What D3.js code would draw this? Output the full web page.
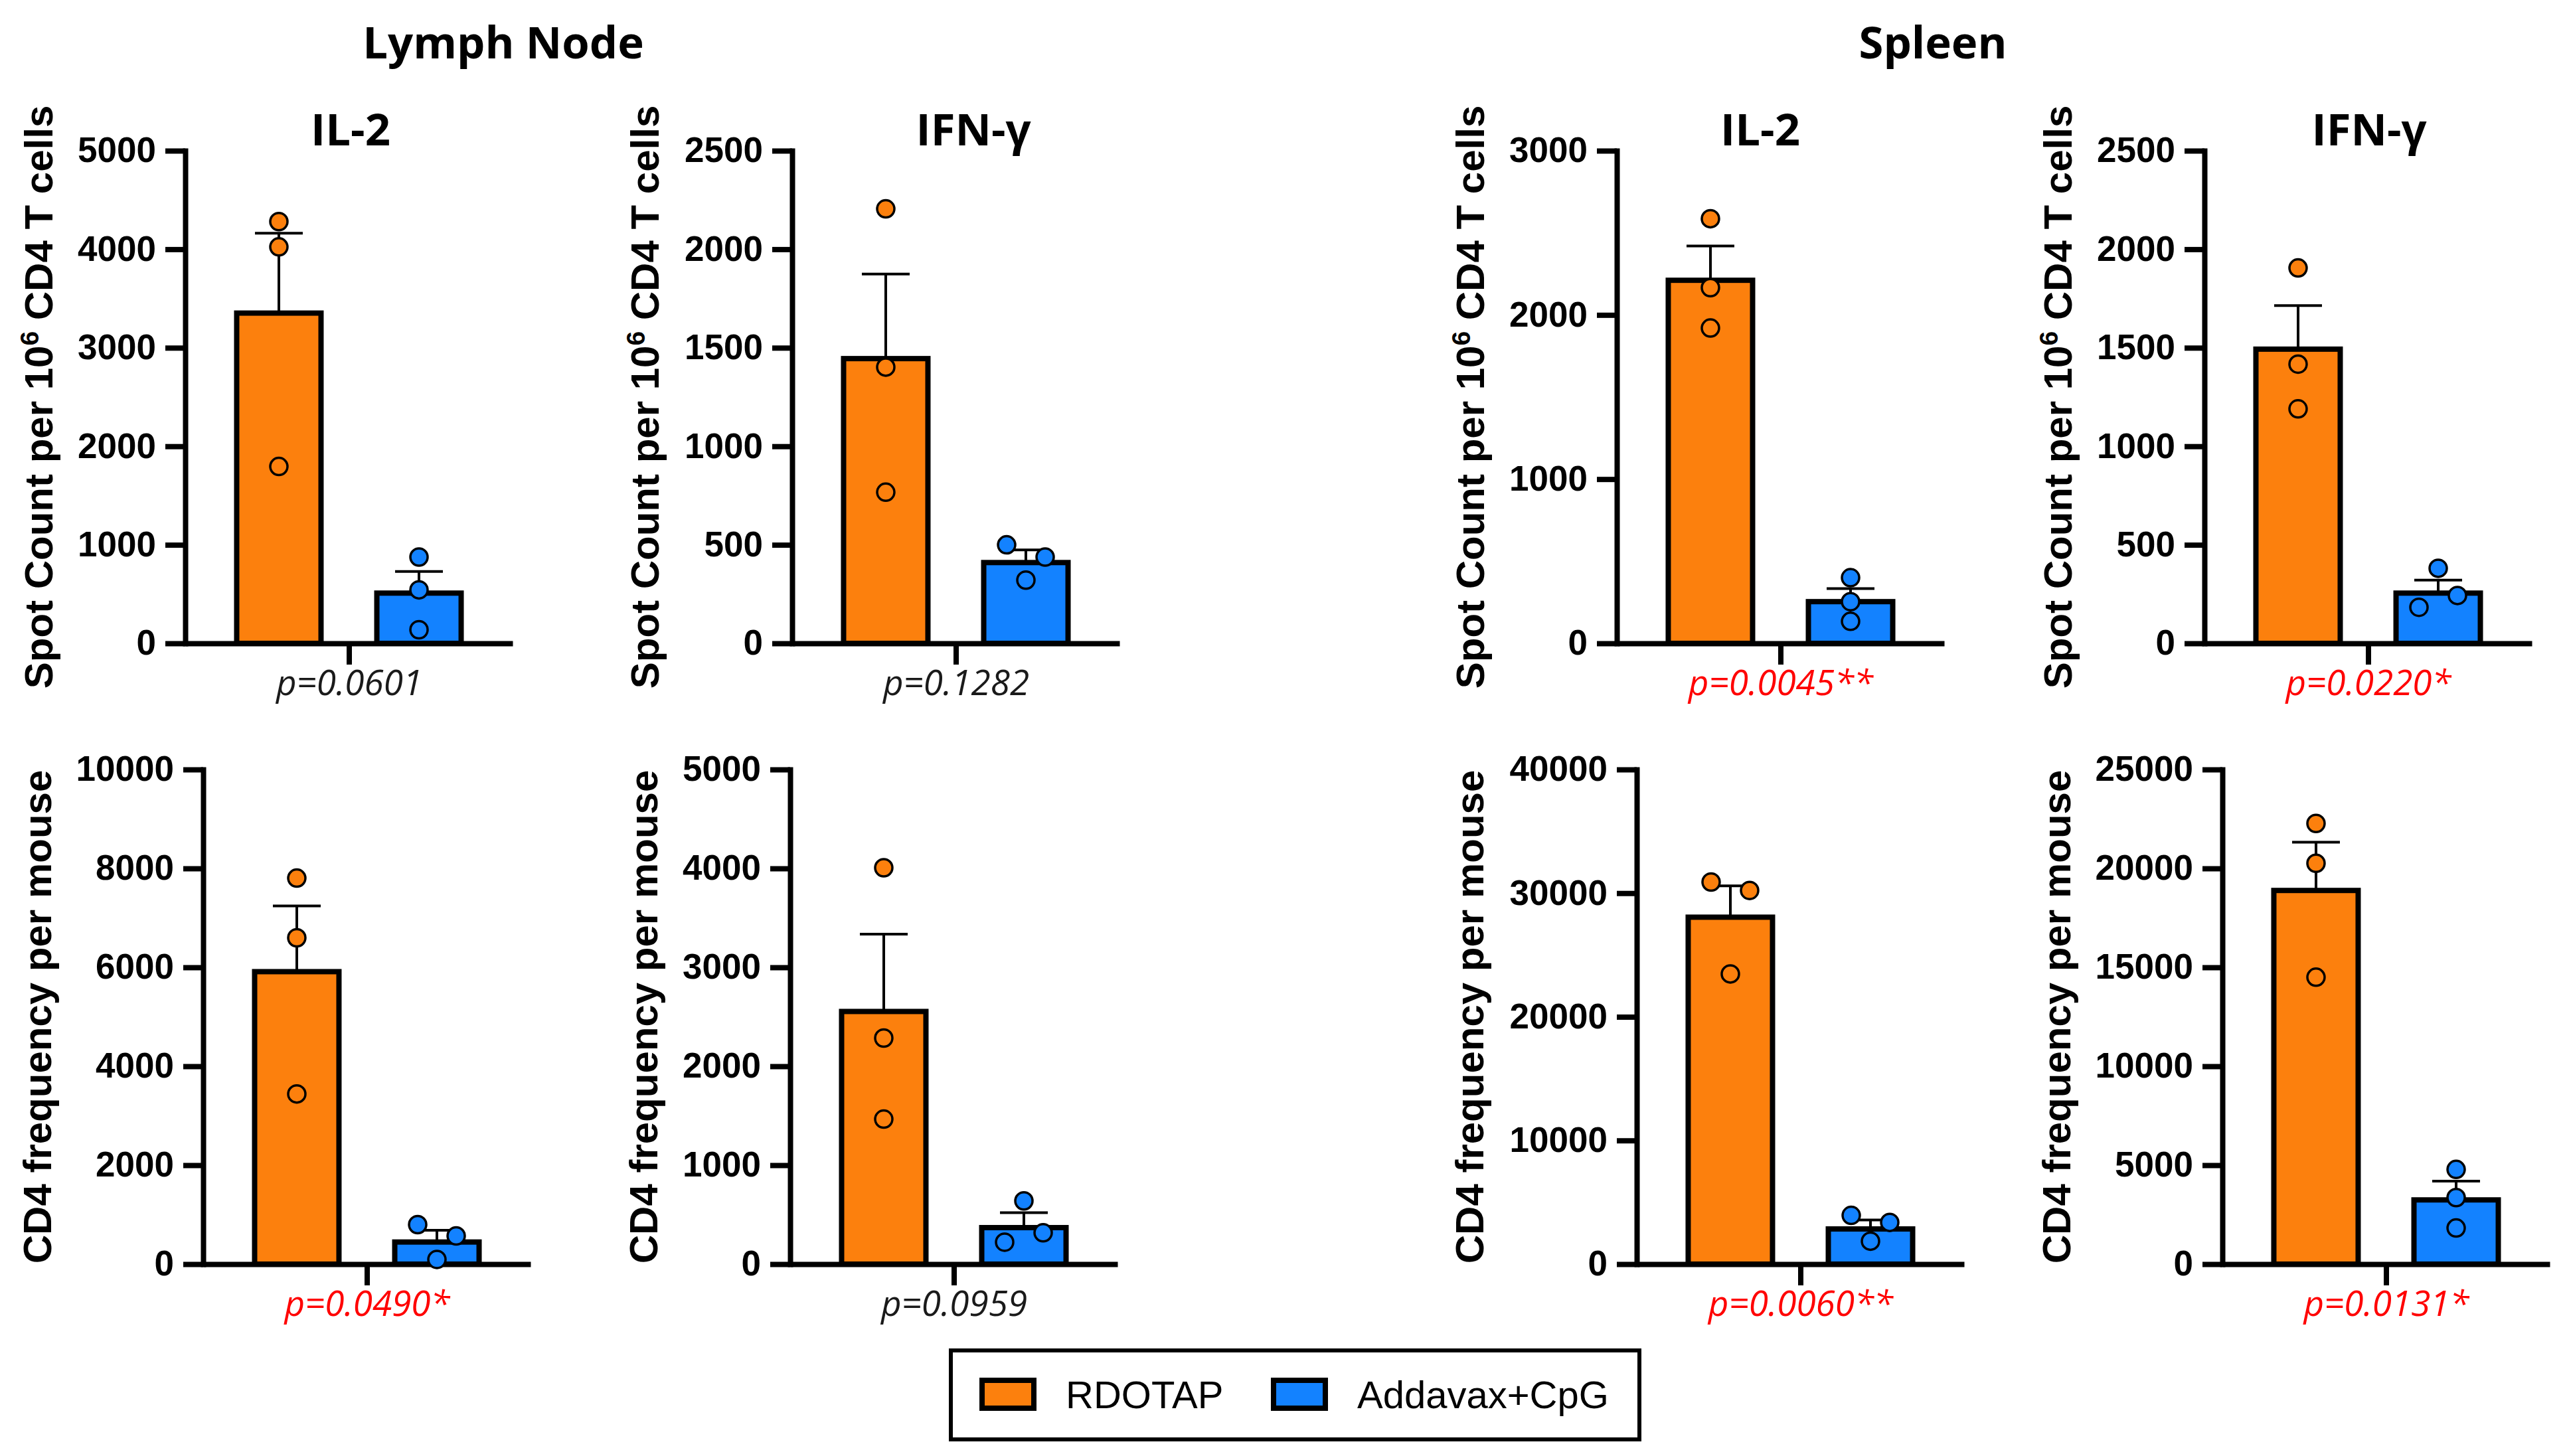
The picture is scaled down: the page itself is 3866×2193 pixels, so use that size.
<!DOCTYPE html>
<html>
<head>
<meta charset="utf-8">
<script src="https://cdn.jsdelivr.net/npm/d3@7"></script>
<style>
  body { margin: 0; background: #fff; }
  .tick text { font-family: "Liberation Sans", Arial, sans-serif; font-weight: bold; }
</style>
</head>
<body>
<script>
// groups and colours
const groups = ["RDOTAP", "Addavax+CpG"];
const groupColors = ["#FC800D", "#1382FF"];

// panels: 0-3 top row (Spot Count), 4-7 bottom row (CD4 frequency)
const panelTitles = ["IL-2", "IFN-γ", "IL-2", "IFN-γ", "", "", "", ""];
const yMax = [5000, 2500, 3000, 2500, 10000, 5000, 40000, 25000];
const yStep = [1000, 500, 1000, 500, 2000, 1000, 10000, 5000];

// bar heights (mean) and top of the error bar (mean + SEM)
const rdotapMean = [3352, 1445, 2211, 1493, 5913, 2554, 28057, 18886];
const rdotapErrTop = [4162, 1874, 2420, 1714, 7243, 3335, 30597, 21327];
const addavaxMean = [510, 410, 254, 255, 447, 369, 2844, 3246];
const addavaxErrTop = [729, 474, 334, 321, 684, 520, 3564, 4194];

// individual mice
const rdotapPoints = [
  [4281, 4024, 1795],
  [2205, 1402, 767],
  [2586, 2166, 1920],
  [1905, 1417, 1190],
  [7804, 6597, 3441],
  [4007, 2285, 1466],
  [30900, 30218, 23469],
  [22275, 20261, 14502]
];
const addavaxPoints = [
  [876, 543, 138],
  [500, 438, 321],
  [400, 254, 134],
  [381, 183, 243],
  [798, 570, 95],
  [639, 222, 317],
  [3943, 3374, 1858],
  [4787, 3365, 1825]
];

const pValues = ["p=0.0601", "p=0.1282", "p=0.0045**", "p=0.0220*",
                 "p=0.0490*", "p=0.0959", "p=0.0060**", "p=0.0131*"];

const sectionTitles = ["Lymph Node", "Spleen"];
const yTitles = ["Spot Count per 10|6| CD4 T cells", "CD4 frequency per mouse"];


// layout
const width = 3866;
const height = 2193;
const axisX = [279, 1193, 2435, 3320, 306, 1190, 2465, 3347];
const yTitleX = [57, 970, 2213, 3098, 55, 968, 2212, 3096];
const titleX = [528, 1466, 2651, 3568];
const rowTop = [227, 1159];
const rowBottom = [969, 1904];
const plotW = 493;
const barW = 127;
const dotR = 13;

const svg = d3.select("body").append("svg")
    .attr("width", width)
    .attr("height", height)
    .style("display", "block")
    .style("background", "#fff");

// section headings
svg.selectAll("text.section")
    .data(sectionTitles)
    .join("text")
    .attr("class", "section")
    .attr("x", (d, i) => [758, 2911][i])
    .attr("y", 88)
    .attr("text-anchor", "middle")
    .style("font-family", "'Open Sans', sans-serif")
    .style("font-weight", 700)
    .style("font-size", "67px")
    .text(d => d);

d3.range(8).forEach(i => {
    const row = i < 4 ? 0 : 1;
    const top = rowTop[row];
    const bottom = rowBottom[row];

    const g = svg.append("g")
        .attr("transform", `translate(${axisX[i]},0)`);

    const y = d3.scaleLinear()
        .domain([0, yMax[i]])
        .range([bottom, top]);

    const x = d3.scalePoint()
        .domain(groups)
        .range([0, plotW])
        .padding(0.668);

    // one category tick in the middle, labelled with the p value
    const xCat = d3.scalePoint()
        .domain([pValues[i]])
        .range([0, plotW])
        .padding(0.5);

    //y axis
    const yAxis = g.append("g")
        .call(d3.axisLeft(y)
            .tickValues(d3.range(0, yMax[i] + 1, yStep[i]))
            .tickFormat(d3.format("d"))
            .tickSize(30)
            .tickSizeOuter(0)
            .tickPadding(14));
    yAxis.select(".domain")
        .attr("stroke", "#000")
        .attr("stroke-width", 8)
        .attr("stroke-linecap", "square");
    yAxis.selectAll(".tick line")
        .attr("stroke", "#000")
        .attr("stroke-width", 8);
    yAxis.selectAll(".tick text")
        .style("font-size", "53px")
        .attr("fill", "#000");

    //x axis
    const xAxis = g.append("g")
        .attr("transform", `translate(0,${bottom})`)
        .call(d3.axisBottom(xCat)
            .tickSize(32)
            .tickSizeOuter(0)
            .tickPadding(8));
    xAxis.select(".domain")
        .attr("stroke", "#000")
        .attr("stroke-width", 8);
    xAxis.selectAll(".tick line")
        .attr("stroke", "#000")
        .attr("stroke-width", 8);
    xAxis.selectAll(".tick text")
        .style("font-family", "'Open Sans', sans-serif")
        .style("font-weight", 400)
        .style("font-style", "italic")
        .style("font-size", "53px")
        .attr("fill", d => d.includes("*") ? "#FF0000" : "#1a1a1a");

    const bars = groups.map((grp, k) => ({
        group: grp,
        color: groupColors[k],
        mean: k === 0 ? rdotapMean[i] : addavaxMean[i],
        errTop: k === 0 ? rdotapErrTop[i] : addavaxErrTop[i],
        points: k === 0 ? rdotapPoints[i] : addavaxPoints[i]
    }));

    //bars
    g.selectAll("rect.bar")
        .data(bars)
        .join("rect")
        .attr("class", "bar")
        .attr("x", d => x(d.group) - barW / 2)
        .attr("y", d => y(d.mean))
        .attr("width", barW)
        .attr("height", d => y(0) - y(d.mean))
        .attr("fill", d => d.color)
        .attr("stroke", "#000")
        .attr("stroke-width", 8);

    //error bars (upper only)
    g.selectAll("line.err")
        .data(bars)
        .join("line")
        .attr("class", "err")
        .attr("x1", d => x(d.group))
        .attr("x2", d => x(d.group))
        .attr("y1", d => y(d.mean))
        .attr("y2", d => y(d.errTop))
        .attr("stroke", "#000")
        .attr("stroke-width", 4);
    g.selectAll("line.cap")
        .data(bars)
        .join("line")
        .attr("class", "cap")
        .attr("x1", d => x(d.group) - 36)
        .attr("x2", d => x(d.group) + 36)
        .attr("y1", d => y(d.errTop))
        .attr("y2", d => y(d.errTop))
        .attr("stroke", "#000")
        .attr("stroke-width", 4);

    //dots, spread sideways when two of them would overlap
    const dots = [];
    bars.forEach(b => {
        const ys = b.points.map(v => y(v));
        const placed = [];
        ys.forEach((py, j) => {
            const hit = ys.findIndex((qy, m) => m !== j && Math.abs(qy - py) < dotR * 2 + 2);
            let dx = 0;
            if (hit >= 0) dx = hit > j ? -29 : 29;
            placed.push(dx);
            dots.push({ cx: x(b.group) + dx, cy: py, color: b.color });
        });
    });
    g.selectAll("circle")
        .data(dots)
        .join("circle")
        .attr("cx", d => d.cx)
        .attr("cy", d => d.cy)
        .attr("r", dotR)
        .attr("fill", d => d.color)
        .attr("stroke", "#000")
        .attr("stroke-width", 3.5);

    //y title
    const parts = yTitles[row].split("|");
    const yt = g.append("text")
        .attr("transform", `translate(${yTitleX[i] - axisX[i]},${(top + bottom) / 2}) rotate(-90)`)
        .attr("text-anchor", "middle")
        .attr("dy", "0.36em")
        .style("font-family", "'Liberation Sans', Arial, sans-serif")
        .style("font-weight", "bold")
        .style("font-size", "60px");
    parts.forEach((p, k) => {
        const t = yt.append("tspan").text(p);
        if (k === 1) t.attr("baseline-shift", "super").style("font-size", "39px");
    });

    //panel title
    if (panelTitles[i]) {
        svg.append("text")
            .attr("x", titleX[i])
            .attr("y", 219)
            .attr("text-anchor", "middle")
            .style("font-family", "'Open Sans', sans-serif")
            .style("font-weight", 700)
            .style("font-size", "67px")
            .text(panelTitles[i]);
    }
});

//legend
const legend = svg.append("g");
legend.append("rect")
    .attr("x", 1432)
    .attr("y", 2034)
    .attr("width", 1037)
    .attr("height", 134)
    .attr("fill", "none")
    .attr("stroke", "#000")
    .attr("stroke-width", 6);

const legendX = [1518, 1957];
const legendItem = legend.selectAll("g.item")
    .data(groups)
    .join("g")
    .attr("class", "item")
    .attr("transform", (d, i) => `translate(${legendX[i]},2100)`);
legendItem.append("rect")
    .attr("x", -39)
    .attr("y", -21)
    .attr("width", 78)
    .attr("height", 42)
    .attr("fill", (d, i) => groupColors[i])
    .attr("stroke", "#000")
    .attr("stroke-width", 8);
legendItem.append("text")
    .attr("x", 87)
    .attr("y", 21)
    .style("font-family", "'Liberation Sans', Arial, sans-serif")
    .style("font-size", "58px")
    .text(d => d);
</script>
</body>
</html>
